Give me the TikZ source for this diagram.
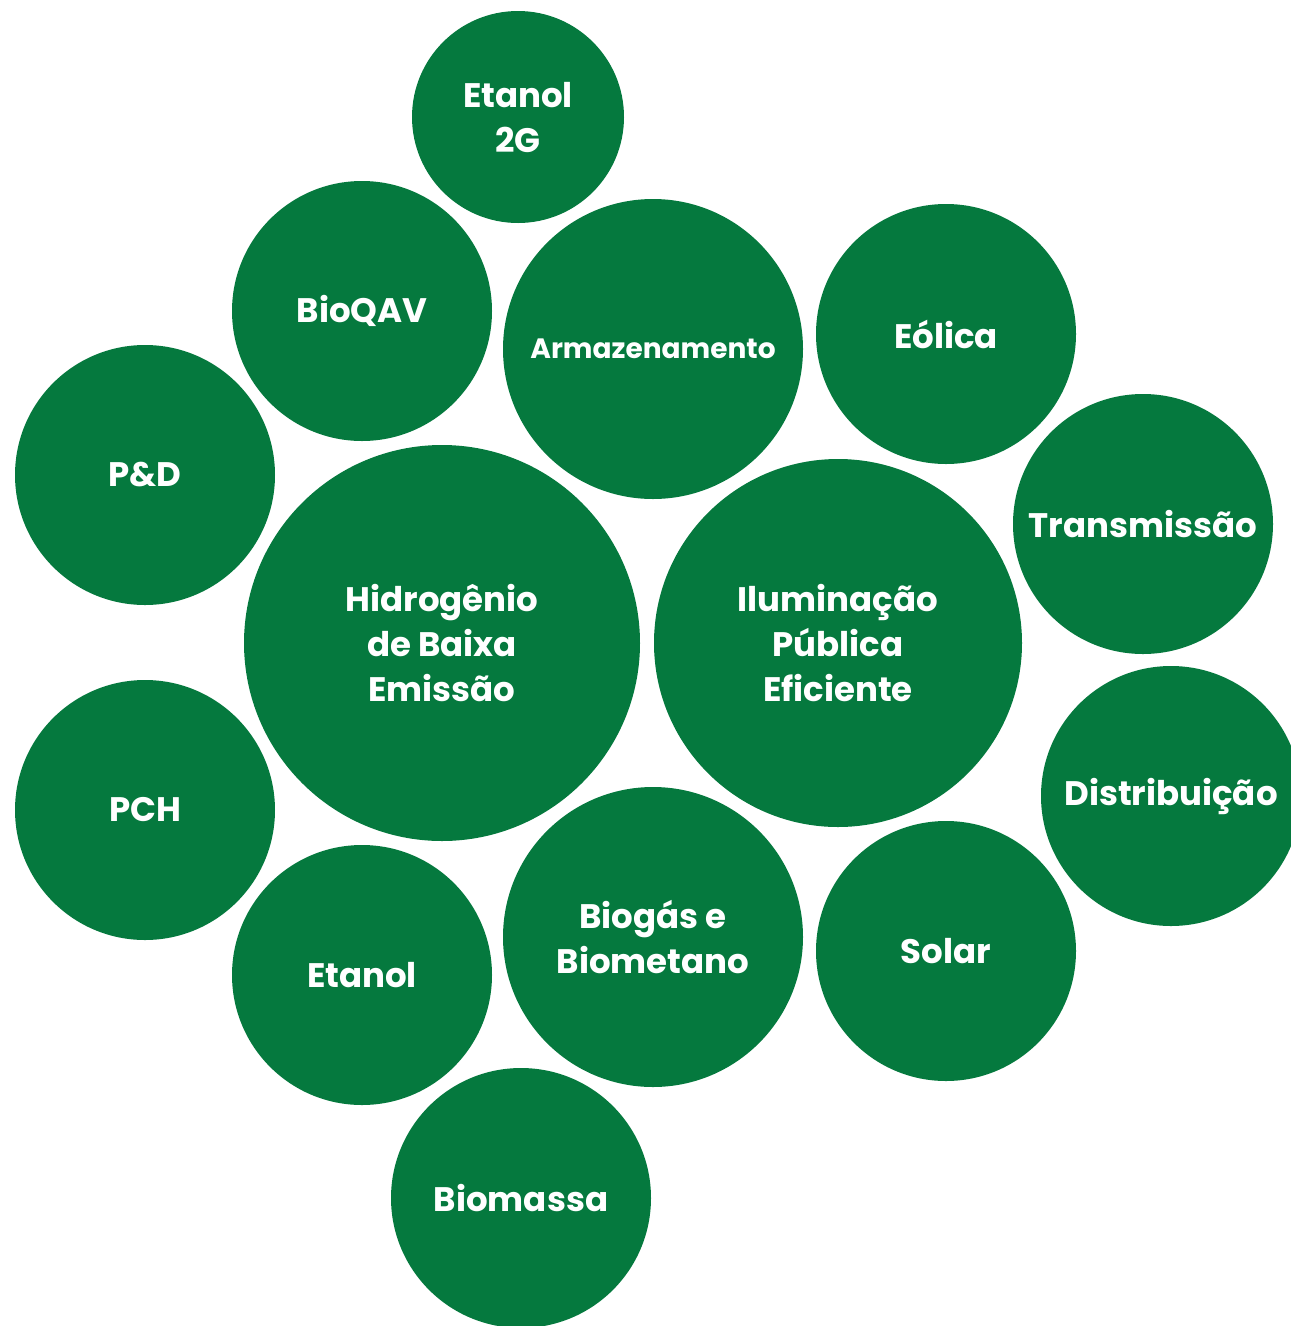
\documentclass[tikz,border=0pt]{standalone}
\usepackage{fontspec}
\setmainfont{Poppins}
\usepackage{xcolor}
\definecolor{colorBubble}{RGB}{5,121,62}
\usepackage{tikz}
\tikzset{bubble/.style={circle, fill=colorBubble, text=white, inner sep=0pt, align=center,
    font=\bfseries\fontsize{34}{45}\selectfont}}

\begin{document}
\begin{tikzpicture}[x=1pt, y=-1pt]
\useasboundingbox (0,0) rectangle (1291,1326);
\node[bubble, minimum size=212] (etanol2g) at (518,117) {Etanol\\2G};
\node[bubble, minimum size=260] (bioqav) at (362,311) {BioQAV};
\node[bubble, minimum size=300, font=\bfseries\fontsize{28}{36}\selectfont] (armaz) at (653,349) {Armazenamento};
\node[bubble, minimum size=260] (eolica) at (946,334) {Eólica};
\node[bubble, minimum size=260] (ped) at (145,475) {P\&D};
\node[bubble, minimum size=260] (transm) at (1143,524) {Transmissão};
\node[bubble, minimum size=396] (hidrog) at (442,643) {Hidrogênio\\de Baixa\\Emissão};
\node[bubble, minimum size=368] (ilum) at (838,643) {Iluminação\\Pública\\Eficiente};
\node[bubble, minimum size=260] (pch) at (145,810) {PCH};
\node[bubble, minimum size=260] (distrib) at (1171,796) {Distribuição};
\node[bubble, minimum size=260] (etanol) at (362,975) {Etanol};
\node[bubble, minimum size=300] (biogas) at (653,937) {Biogás e\\Biometano};
\node[bubble, minimum size=260] (solar) at (946,951) {Solar};
\node[bubble, minimum size=260] (biomassa) at (521,1198) {Biomassa};
\end{tikzpicture}
\end{document}
